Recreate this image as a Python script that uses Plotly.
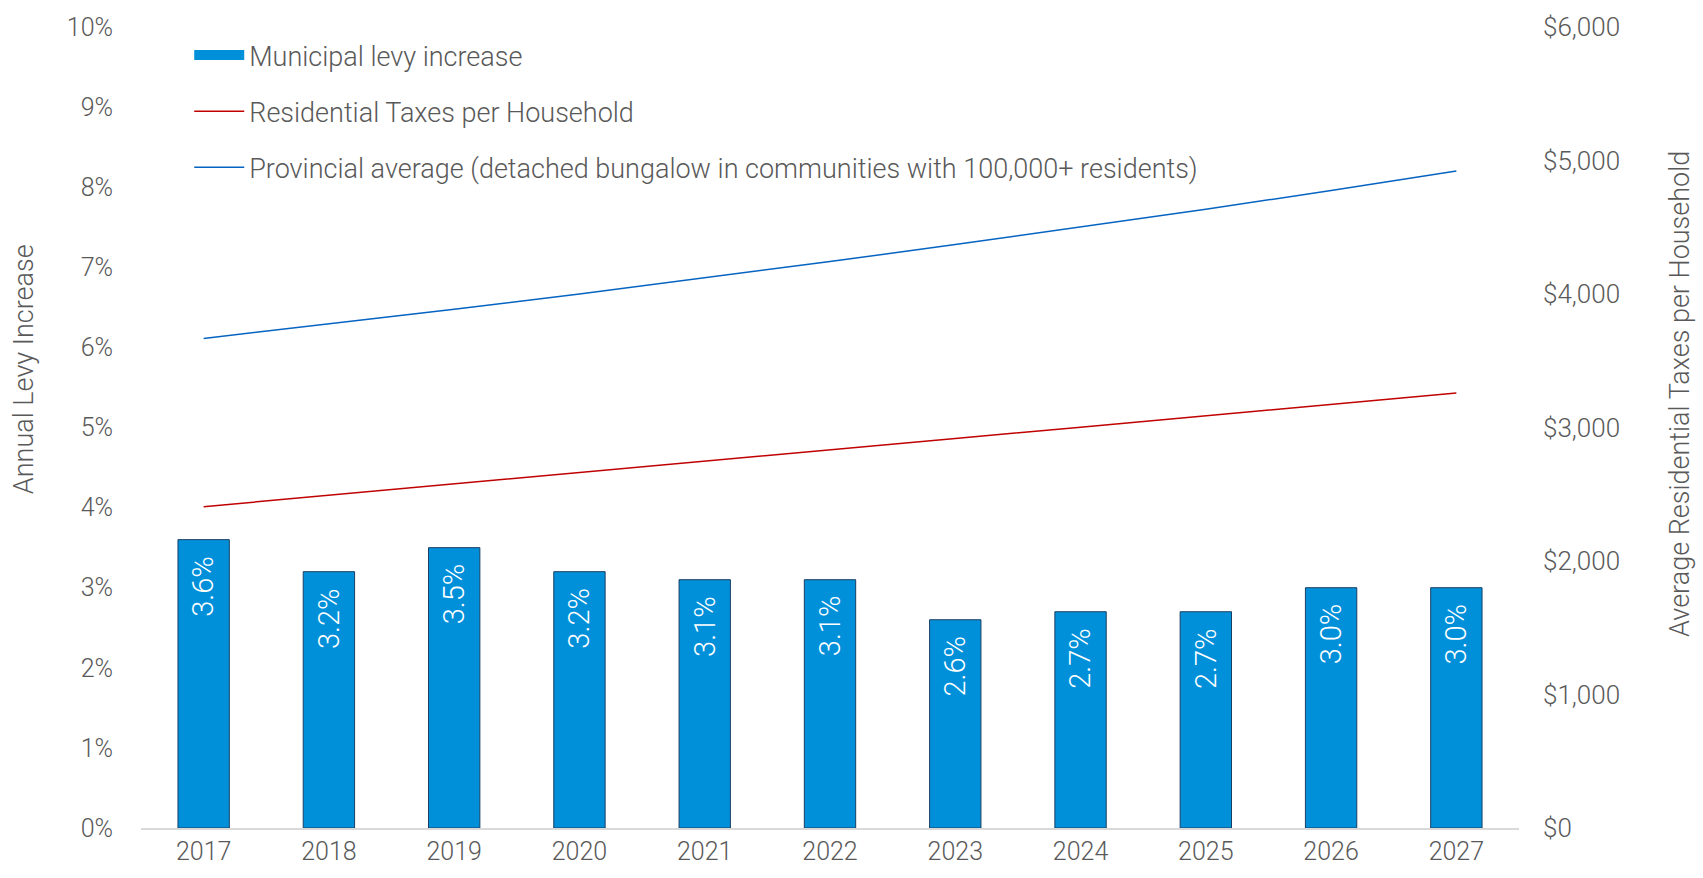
import plotly.graph_objects as go

years = ["2017", "2018", "2019", "2020", "2021", "2022", "2023", "2024", "2025", "2026", "2027"]
levy_increase = [3.6, 3.2, 3.5, 3.2, 3.1, 3.1, 2.6, 2.7, 2.7, 3.0, 3.0]
residential_taxes = [2407, 2493, 2578, 2664, 2749, 2834, 2918, 3002, 3086, 3172, 3258]
provincial_avg = [3667, 3775, 3886, 4000, 4120, 4243, 4370, 4500, 4635, 4775, 4922]

left_ticks = [0, 1, 2, 3, 4, 5, 6, 7, 8, 9, 10]
left_ticktext = [f"{v}%" for v in left_ticks]
right_ticks = [0, 1000, 2000, 3000, 4000, 5000, 6000]
right_ticktext = [f"${v:,}" for v in right_ticks]

FONT = "Roboto"
GRAY = "#595959"
BAR_COLOR = "#0090DA"

W, H = 1703, 878
L, R, T, B = 141, 184, 22, 46
pw, ph = W - L - R, H - T - B


def px_to_paper(px, py):
    return (px - L) / pw, 1 - (py - T) / ph


fig = go.Figure()
fig.add_trace(go.Bar(
    x=years, y=levy_increase, name="Municipal levy increase",
    marker=dict(color=BAR_COLOR, line=dict(color="#1B3F63", width=1)),
    legendgroup="a", hoverinfo="skip", showlegend=False,
))
# legend entry for the bars, drawn as a wide swatch
fig.add_trace(go.Scatter(
    x=[None], y=[None], name="Municipal levy increase", mode="lines",
    line=dict(color=BAR_COLOR, width=16), legendgroup="a", hoverinfo="skip",
))
fig.add_trace(go.Scatter(
    x=years, y=residential_taxes, name="Residential Taxes per Household",
    mode="lines", line=dict(color="#C00000", width=1.5), yaxis="y2",
    legendgroup="b",
))
fig.add_trace(go.Scatter(
    x=years, y=provincial_avg,
    name="Provincial average (detached bungalow in communities with 100,000+ residents)",
    mode="lines", line=dict(color="#0563C1", width=1.5), yaxis="y2",
    legendgroup="c",
))

annotations = []
for i, v in enumerate(levy_increase):
    annotations.append(dict(
        x=i, y=v, xref="x", yref="y", text=f"{v:.1f}%", showarrow=False,
        textangle=-90, yanchor="top", xanchor="center", yshift=-14,
        font=dict(family=FONT, size=29, color="white", weight=300),
    ))
lx, ly = px_to_paper(24, 368)
annotations.append(dict(
    x=lx, y=ly, xref="paper", yref="paper", text="Annual Levy Increase", showarrow=False,
    xanchor="center", yanchor="middle",
    textangle=-90, font=dict(family=FONT, size=27, color=GRAY, weight=300),
))
rx, ry = px_to_paper(1680, 393)
annotations.append(dict(
    x=rx, y=ry, xref="paper", yref="paper", text="Average Residential Taxes per Household",
    showarrow=False, xanchor="center", yanchor="middle",
    textangle=-90, font=dict(family=FONT, size=27, color=GRAY, weight=300),
))

fig.update_layout(
    width=W, height=H,
    margin=dict(l=L, r=R, t=T, b=B),
    paper_bgcolor="white", plot_bgcolor="white",
    font=dict(family=FONT, size=24, color=GRAY, weight=300),
    bargap=0.59,
    showlegend=True,
    legend=dict(
        x=0.035, y=0.995, xanchor="left", yanchor="top",
        bgcolor="rgba(0,0,0,0)", font=dict(family=FONT, size=27, color=GRAY, weight=300),
        tracegroupgap=18, itemwidth=50, traceorder="grouped",
    ),
    xaxis=dict(
        type="category", categoryorder="array", categoryarray=years,
        range=[-0.5, len(years) - 0.5], autorange=False,
        showgrid=False, showline=True, linecolor="#D9D9D9", linewidth=2,
        ticks="", tickfont=dict(family=FONT, size=25, color=GRAY, weight=300),
    ),
    yaxis=dict(
        range=[0, 10], tickvals=left_ticks, ticktext=left_ticktext, showgrid=False,
        zeroline=False, showline=False, ticks="", ticklabelstandoff=27,
        tickfont=dict(family=FONT, size=25, color=GRAY, weight=300),
    ),
    yaxis2=dict(
        range=[0, 6000], tickvals=right_ticks, ticktext=right_ticktext, overlaying="y",
        side="right", showgrid=False, zeroline=False, showline=False, ticks="",
        ticklabelstandoff=23,
        tickfont=dict(family=FONT, size=26, color=GRAY, weight=300),
    ),
    annotations=annotations,
)

fig.write_html("out.html")
